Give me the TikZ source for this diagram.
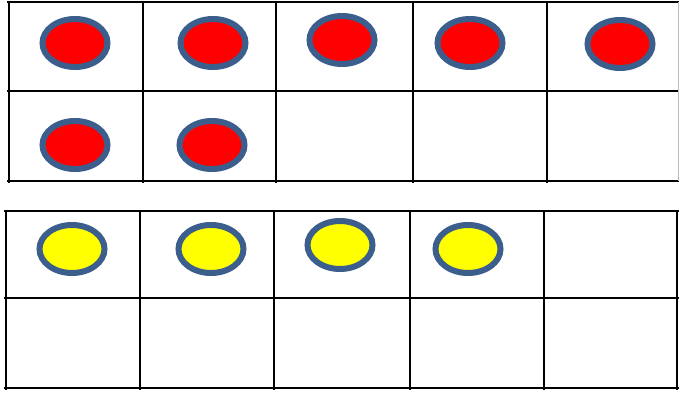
\documentclass[tikz,border=0pt]{standalone}
\usepackage{xcolor}
\usepackage{tikz}
\usetikzlibrary{
  shapes.geometric,
  positioning
}
\definecolor{dotrim}{RGB}{59,94,140}
\definecolor{dotred}{RGB}{255,0,0}
\definecolor{dotyellow}{RGB}{255,255,0}

\begin{document}
\begin{tikzpicture}[
  x=1pt, y=-1pt,
  gridline/.style={line width=2pt, draw=black},
  counter/.style={ellipse, draw=dotrim, line width=6pt, minimum width=65pt,
    minimum height=48pt, inner sep=0pt},
  reddot/.style={counter, fill=dotred},
  yellowdot/.style={counter, fill=dotyellow}
]
  \useasboundingbox (0,0) rectangle (679,396);

  % top frame
  \foreach \y in {2,91,181} \draw[gridline] (7,\y) -- (679,\y);
  \foreach \x in {9,143,276,413,547} \draw[gridline] (\x,1) -- (\x,183);
  \draw[line width=1pt, gray!50] (678.5,2) -- (678.5,181);

  % bottom frame
  \foreach \y in {211,298,388} \draw[gridline] (4,\y) -- (679,\y);
  \foreach \x in {6,140,274,410,544,677} \draw[gridline] (\x,210) -- (\x,390);

  \node[reddot] (r1) at (75,43) {};
  \node[reddot] (r2) at (213,43) {};
  \node[reddot] (r3) at (342,40) {};
  \node[reddot] (r4) at (470,43) {};
  \node[reddot] (r5) at (620,44) {};
  \node[reddot] (r6) at (75,145) {};
  \node[reddot] (r7) at (212,145) {};

  \node[yellowdot] (y1) at (72,249) {};
  \node[yellowdot] (y2) at (211,249) {};
  \node[yellowdot] (y3) at (340,245) {};
  \node[yellowdot] (y4) at (468,249) {};
\end{tikzpicture}
\end{document}
